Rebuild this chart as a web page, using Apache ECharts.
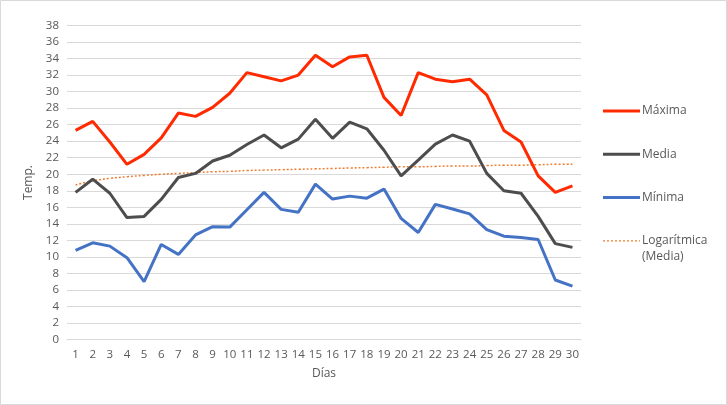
<!DOCTYPE html>
<html><head><meta charset="utf-8">
<script src="https://cdn.jsdelivr.net/npm/echarts@6/dist/echarts.min.js"></script>
<style>html,body{margin:0;padding:0;background:#fff}#c{width:727px;height:405px}</style>
</head><body><div id="c"></div>
<script>
const days = ['1','2','3','4','5','6','7','8','9','10','11','12','13','14','15','16','17','18','19','20','21','22','23','24','25','26','27','28','29','30'];
const maxima = [25.3,26.4,23.9,21.2,22.4,24.4,27.4,27.0,28.1,29.8,32.3,31.8,31.3,32.0,34.4,33.0,34.2,34.4,29.3,27.1,32.3,31.5,31.2,31.5,29.6,25.3,23.9,19.8,17.8,18.6];
const media = [17.8,19.4,17.7,14.75,14.9,16.95,19.6,20.1,21.6,22.3,23.6,24.75,23.2,24.25,26.65,24.35,26.3,25.5,22.9,19.8,21.7,23.65,24.75,24.0,20.1,18.0,17.7,14.9,11.6,11.15];
const minima = [10.8,11.7,11.3,9.9,7.0,11.5,10.3,12.65,13.65,13.6,15.7,17.8,15.75,15.4,18.8,17.0,17.35,17.1,18.2,14.65,12.95,16.35,15.8,15.2,13.3,12.5,12.35,12.1,7.2,6.45];
const tendencia = [18.7,19.2,19.5,19.7,19.85,20.0,20.1,20.2,20.3,20.35,20.45,20.5,20.55,20.6,20.65,20.7,20.75,20.8,20.85,20.9,20.9,20.95,21.0,21.0,21.05,21.1,21.1,21.15,21.2,21.2];

const chart = echarts.init(document.getElementById('c'));
const txt = '#595959';
const font = '"Open Sans", "Liberation Sans", sans-serif';
const lineIcon = 'path://M0,0h0.01v0.01h-0.01zM0,5.5h37v3h-37zM37,14h-0.01v-0.01h0.01z';
const dotIcon = 'path://M0,0h0.01v0.01h-0.01zM0,6.3h2v1.4h-2zM4,6.3h2v1.4h-2zM8,6.3h2v1.4h-2zM12,6.3h2v1.4h-2zM16,6.3h2v1.4h-2zM20,6.3h2v1.4h-2zM24,6.3h2v1.4h-2zM28,6.3h2v1.4h-2zM32,6.3h2v1.4h-2zM36,6.3h1v1.4h-1zM37,14h-0.01v-0.01h0.01z';
chart.setOption({
  animation: false,
  textStyle: {fontFamily: font},
  graphic: [
    {type:'rect', shape:{x:0.5,y:0.5,width:726,height:404}, style:{fill:'none', stroke:'#d9d9d9', lineWidth:1}, silent:true},
    {type:'text', left: 642, top: 251, style:{text:'(Media)', fill: txt, fontSize: 12, fontFamily: font}, silent:true}
  ],
  grid: {left: 67, right: 146, top: 25.5, bottom: 65.5},
  xAxis: {
    type: 'category', data: days, boundaryGap: true,
    name: 'Días', nameLocation: 'middle', nameGap: 28,
    nameTextStyle: {color: txt, fontSize: 12, fontFamily: font},
    axisLine: {show: true, lineStyle: {color: '#d9d9d9', width: 1}},
    axisTick: {show: false},
    axisLabel: {color: txt, fontSize: 11.5, margin: 9, fontFamily: font}
  },
  yAxis: {
    type: 'value', min: 0, max: 38, interval: 2,
    name: 'Temp.', nameLocation: 'middle', nameGap: 32, nameRotate: 90,
    nameTextStyle: {color: txt, fontSize: 12, fontFamily: font},
    axisLine: {show: false}, axisTick: {show: false},
    axisLabel: {color: txt, fontSize: 11.5, margin: 8, fontFamily: font},
    splitLine: {lineStyle: {color: '#d9d9d9', width: 1}}
  },
  legend: {
    orient: 'vertical', left: 598, top: 99, itemWidth: 37, itemHeight: 14, itemGap: 29.3,
    textStyle: {color: txt, fontSize: 12, fontFamily: font, padding:[0,0,0,-3]},
    data: [
      {name: 'Máxima', icon: lineIcon, itemStyle: {color: '#FF2A00'}},
      {name: 'Media', icon: lineIcon, itemStyle: {color: '#4D4D4D'}},
      {name: 'Mínima', icon: lineIcon, itemStyle: {color: '#4472C4'}},
      {name: 'Logarítmica (Media)', icon: dotIcon, itemStyle: {color: '#ED7D31'}}
    ],
    formatter: function(n){ return n === 'Logarítmica (Media)' ? 'Logarítmica' : n; }
  },
  series: [
    {name: 'Máxima', type: 'line', data: maxima, symbol: 'none', lineStyle: {color: '#FF2A00', width: 3}, itemStyle: {color: '#FF2A00'}, z: 4},
    {name: 'Media', type: 'line', data: media, symbol: 'none', lineStyle: {color: '#4D4D4D', width: 3}, itemStyle: {color: '#4D4D4D'}, z: 3},
    {name: 'Mínima', type: 'line', data: minima, symbol: 'none', lineStyle: {color: '#4472C4', width: 3}, itemStyle: {color: '#4472C4'}, z: 3},
    {name: 'Logarítmica (Media)', type: 'line', data: tendencia, symbol: 'none', smooth: true, lineStyle: {color: '#ED7D31', width: 1.5, type: [2, 2]}, itemStyle: {color: '#ED7D31'}, z: 2}
  ]
});
</script></body></html>
